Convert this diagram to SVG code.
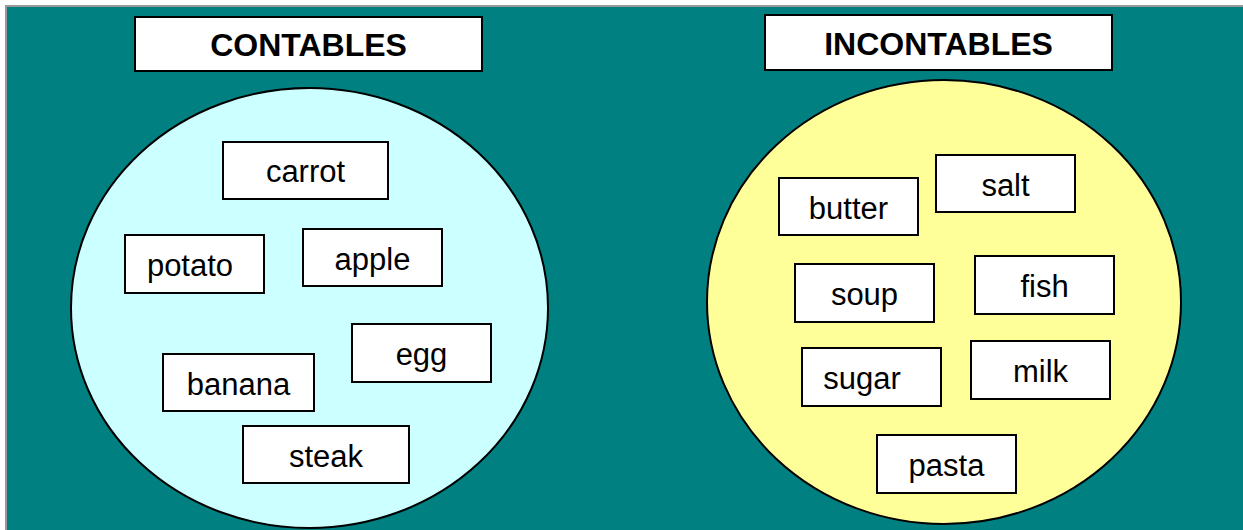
<svg xmlns="http://www.w3.org/2000/svg" width="1243" height="530" viewBox="0 0 1243 530">
<style>
.box{fill:#fff;stroke:#000;stroke-width:2}
.t{font-family:"Liberation Sans",Arial,sans-serif;font-size:31px;fill:#000;text-anchor:middle}
.h{font-family:"Liberation Sans",Arial,sans-serif;font-size:32px;font-weight:bold;fill:#000;text-anchor:middle}
</style>
<rect x="0" y="0" width="1243" height="530" fill="#fff"/>
<rect x="6" y="6" width="1240" height="530" fill="#008080" stroke="#999" stroke-width="2"/>
<g id="contables">
<ellipse cx="309.5" cy="308" rx="238.5" ry="220" fill="#ccffff" stroke="#000" stroke-width="2"/>
<rect class="box" x="135" y="17" width="347" height="54"/>
<text class="h" x="308.5" y="56">CONTABLES</text>
</g>
<g id="incontables">
<ellipse cx="944" cy="302" rx="237" ry="222" fill="#ffff99" stroke="#000" stroke-width="2"/>
<rect class="box" x="765" y="15" width="347" height="55"/>
<text class="h" x="938.5" y="55">INCONTABLES</text>
</g>
<g id="carrot"><rect class="box" x="223" y="142" width="165" height="57"/><text class="t" x="305.5" y="182">carrot</text></g>
<g id="potato"><rect class="box" x="125" y="235" width="139" height="58"/><text class="t" x="190" y="276">potato</text></g>
<g id="apple"><rect class="box" x="303" y="229" width="139" height="57"/><text class="t" x="372.5" y="270">apple</text></g>
<g id="egg"><rect class="box" x="352" y="324" width="139" height="58"/><text class="t" x="421.5" y="365">egg</text></g>
<g id="banana"><rect class="box" x="163" y="354" width="151" height="57"/><text class="t" x="238.5" y="395">banana</text></g>
<g id="steak"><rect class="box" x="243" y="426" width="166" height="57"/><text class="t" x="326" y="467">steak</text></g>
<g id="butter"><rect class="box" x="779" y="178" width="139" height="57"/><text class="t" x="848.5" y="219">butter</text></g>
<g id="salt"><rect class="box" x="936" y="155" width="139" height="57"/><text class="t" x="1005.5" y="196">salt</text></g>
<g id="soup"><rect class="box" x="795" y="264" width="139" height="58"/><text class="t" x="864.5" y="305">soup</text></g>
<g id="fish"><rect class="box" x="975" y="256" width="139" height="58"/><text class="t" x="1044.5" y="297">fish</text></g>
<g id="sugar"><rect class="box" x="802" y="348" width="139" height="58"/><text class="t" x="862" y="389">sugar</text></g>
<g id="milk"><rect class="box" x="971" y="341" width="139" height="58"/><text class="t" x="1040.5" y="382">milk</text></g>
<g id="pasta"><rect class="box" x="877" y="435" width="139" height="58"/><text class="t" x="946.5" y="476">pasta</text></g>
<g id="connectors"></g>
</svg>
